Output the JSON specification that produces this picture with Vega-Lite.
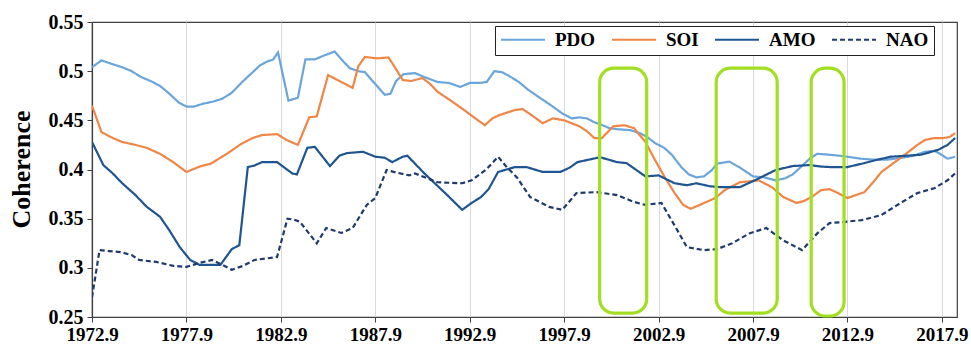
{
  "$schema": "https://vega.github.io/schema/vega-lite/v6.json",
  "width": 865,
  "height": 295,
  "autosize": {"type": "none"},
  "padding": {"left": 92, "top": 22, "right": 14, "bottom": 31},
  "background": "white",
  "config": {"view": {"stroke": "#404040", "strokeWidth": 1.2}, "font": "Liberation Serif"},
  "datasets": {
    "series": [
      {"series":"PDO","year":1972.9,"value":0.504},{"series":"PDO","year":1973.4,"value":0.511},{"series":"PDO","year":1974.0,"value":0.507},{"series":"PDO","year":1974.5,"value":0.504},{"series":"PDO","year":1975.0,"value":0.500},{"series":"PDO","year":1975.5,"value":0.494},{"series":"PDO","year":1976.0,"value":0.490},{"series":"PDO","year":1976.5,"value":0.485},{"series":"PDO","year":1977.0,"value":0.477},{"series":"PDO","year":1977.5,"value":0.468},{"series":"PDO","year":1977.9,"value":0.464},{"series":"PDO","year":1978.3,"value":0.464},{"series":"PDO","year":1978.8,"value":0.467},{"series":"PDO","year":1979.3,"value":0.469},{"series":"PDO","year":1979.8,"value":0.472},{"series":"PDO","year":1980.3,"value":0.478},{"series":"PDO","year":1980.8,"value":0.488},{"series":"PDO","year":1981.3,"value":0.497},{"series":"PDO","year":1981.8,"value":0.506},{"series":"PDO","year":1982.2,"value":0.510},{"series":"PDO","year":1982.5,"value":0.512},{"series":"PDO","year":1982.75,"value":0.519},{"series":"PDO","year":1983.3,"value":0.470},{"series":"PDO","year":1983.8,"value":0.473},{"series":"PDO","year":1984.2,"value":0.512},{"series":"PDO","year":1984.7,"value":0.512},{"series":"PDO","year":1985.2,"value":0.516},{"series":"PDO","year":1985.75,"value":0.520},{"series":"PDO","year":1986.2,"value":0.510},{"series":"PDO","year":1986.55,"value":0.503},{"series":"PDO","year":1987.0,"value":0.500},{"series":"PDO","year":1987.35,"value":0.499},{"series":"PDO","year":1987.9,"value":0.487},{"series":"PDO","year":1988.4,"value":0.476},{"series":"PDO","year":1988.7,"value":0.477},{"series":"PDO","year":1989.0,"value":0.490},{"series":"PDO","year":1989.4,"value":0.497},{"series":"PDO","year":1990.0,"value":0.498},{"series":"PDO","year":1990.5,"value":0.494},{"series":"PDO","year":1991.2,"value":0.489},{"series":"PDO","year":1991.8,"value":0.488},{"series":"PDO","year":1992.4,"value":0.484},{"series":"PDO","year":1992.9,"value":0.488},{"series":"PDO","year":1993.4,"value":0.488},{"series":"PDO","year":1993.8,"value":0.489},{"series":"PDO","year":1994.2,"value":0.500},{"series":"PDO","year":1994.6,"value":0.499},{"series":"PDO","year":1995.0,"value":0.495},{"series":"PDO","year":1995.5,"value":0.489},{"series":"PDO","year":1996.0,"value":0.481},{"series":"PDO","year":1996.76,"value":0.471},{"series":"PDO","year":1997.3,"value":0.464},{"series":"PDO","year":1997.8,"value":0.457},{"series":"PDO","year":1998.3,"value":0.452},{"series":"PDO","year":1998.7,"value":0.453},{"series":"PDO","year":1999.1,"value":0.452},{"series":"PDO","year":1999.5,"value":0.448},{"series":"PDO","year":1999.8,"value":0.446},{"series":"PDO","year":2000.3,"value":0.442},{"series":"PDO","year":2000.7,"value":0.441},{"series":"PDO","year":2001.4,"value":0.440},{"series":"PDO","year":2001.9,"value":0.437},{"series":"PDO","year":2002.3,"value":0.433},{"series":"PDO","year":2002.7,"value":0.427},{"series":"PDO","year":2003.2,"value":0.422},{"series":"PDO","year":2003.6,"value":0.415},{"series":"PDO","year":2004.1,"value":0.4025},{"series":"PDO","year":2004.5,"value":0.395},{"series":"PDO","year":2004.9,"value":0.392},{"series":"PDO","year":2005.3,"value":0.393},{"series":"PDO","year":2005.7,"value":0.399},{"series":"PDO","year":2006.0,"value":0.406},{"series":"PDO","year":2006.65,"value":0.408},{"series":"PDO","year":2007.2,"value":0.402},{"series":"PDO","year":2007.9,"value":0.393},{"series":"PDO","year":2008.5,"value":0.392},{"series":"PDO","year":2009.1,"value":0.389},{"series":"PDO","year":2009.6,"value":0.391},{"series":"PDO","year":2010.0,"value":0.395},{"series":"PDO","year":2010.4,"value":0.402},{"series":"PDO","year":2010.9,"value":0.411},{"series":"PDO","year":2011.3,"value":0.416},{"series":"PDO","year":2011.95,"value":0.415},{"series":"PDO","year":2012.5,"value":0.414},{"series":"PDO","year":2012.9,"value":0.413},{"series":"PDO","year":2013.6,"value":0.411},{"series":"PDO","year":2014.3,"value":0.410},{"series":"PDO","year":2015.0,"value":0.410},{"series":"PDO","year":2015.8,"value":0.412},{"series":"PDO","year":2016.4,"value":0.414},{"series":"PDO","year":2017.0,"value":0.418},{"series":"PDO","year":2017.5,"value":0.419},{"series":"PDO","year":2017.8,"value":0.416},{"series":"PDO","year":2018.2,"value":0.411},{"series":"PDO","year":2018.6,"value":0.413},
      {"series":"SOI","year":1972.9,"value":0.465},{"series":"SOI","year":1973.4,"value":0.438},{"series":"SOI","year":1974.0,"value":0.432},{"series":"SOI","year":1974.5,"value":0.428},{"series":"SOI","year":1975.2,"value":0.425},{"series":"SOI","year":1975.8,"value":0.422},{"series":"SOI","year":1976.5,"value":0.416},{"series":"SOI","year":1977.2,"value":0.4075},{"series":"SOI","year":1977.9,"value":0.3975},{"series":"SOI","year":1978.6,"value":0.403},{"series":"SOI","year":1979.2,"value":0.406},{"series":"SOI","year":1980.1,"value":0.4167},{"series":"SOI","year":1980.8,"value":0.426},{"series":"SOI","year":1981.4,"value":0.432},{"series":"SOI","year":1981.9,"value":0.435},{"series":"SOI","year":1982.7,"value":0.436},{"series":"SOI","year":1983.2,"value":0.430},{"series":"SOI","year":1983.8,"value":0.425},{"series":"SOI","year":1984.4,"value":0.453},{"series":"SOI","year":1984.8,"value":0.454},{"series":"SOI","year":1985.4,"value":0.496},{"series":"SOI","year":1986.0,"value":0.490},{"series":"SOI","year":1986.7,"value":0.483},{"series":"SOI","year":1987.0,"value":0.505},{"series":"SOI","year":1987.35,"value":0.5145},{"series":"SOI","year":1988.0,"value":0.513},{"series":"SOI","year":1988.6,"value":0.514},{"series":"SOI","year":1989.0,"value":0.502},{"series":"SOI","year":1989.35,"value":0.491},{"series":"SOI","year":1989.8,"value":0.490},{"series":"SOI","year":1990.4,"value":0.493},{"series":"SOI","year":1990.8,"value":0.487},{"series":"SOI","year":1991.2,"value":0.479},{"series":"SOI","year":1991.9,"value":0.470},{"series":"SOI","year":1992.6,"value":0.4605},{"series":"SOI","year":1993.2,"value":0.452},{"series":"SOI","year":1993.7,"value":0.445},{"series":"SOI","year":1994.1,"value":0.452},{"series":"SOI","year":1994.5,"value":0.4555},{"series":"SOI","year":1995.3,"value":0.4605},{"series":"SOI","year":1995.7,"value":0.4615},{"series":"SOI","year":1996.2,"value":0.455},{"series":"SOI","year":1996.76,"value":0.447},{"series":"SOI","year":1997.3,"value":0.452},{"series":"SOI","year":1997.9,"value":0.450},{"series":"SOI","year":1998.7,"value":0.444},{"series":"SOI","year":1999.1,"value":0.439},{"series":"SOI","year":1999.5,"value":0.432},{"series":"SOI","year":1999.9,"value":0.432},{"series":"SOI","year":2000.5,"value":0.444},{"series":"SOI","year":2001.1,"value":0.445},{"series":"SOI","year":2001.6,"value":0.442},{"series":"SOI","year":2002.2,"value":0.428},{"series":"SOI","year":2002.7,"value":0.410},{"series":"SOI","year":2003.2,"value":0.393},{"series":"SOI","year":2003.75,"value":0.376},{"series":"SOI","year":2004.2,"value":0.364},{"series":"SOI","year":2004.6,"value":0.360},{"series":"SOI","year":2005.2,"value":0.365},{"series":"SOI","year":2005.9,"value":0.371},{"series":"SOI","year":2006.4,"value":0.379},{"series":"SOI","year":2007.2,"value":0.387},{"series":"SOI","year":2008.2,"value":0.389},{"series":"SOI","year":2008.9,"value":0.382},{"series":"SOI","year":2009.5,"value":0.372},{"series":"SOI","year":2010.2,"value":0.366},{"series":"SOI","year":2010.6,"value":0.368},{"series":"SOI","year":2011.0,"value":0.372},{"series":"SOI","year":2011.5,"value":0.379},{"series":"SOI","year":2011.95,"value":0.380},{"series":"SOI","year":2012.3,"value":0.377},{"series":"SOI","year":2012.9,"value":0.371},{"series":"SOI","year":2013.8,"value":0.377},{"series":"SOI","year":2014.3,"value":0.388},{"series":"SOI","year":2014.7,"value":0.3975},{"series":"SOI","year":2015.3,"value":0.406},{"series":"SOI","year":2015.8,"value":0.413},{"series":"SOI","year":2016.2,"value":0.419},{"series":"SOI","year":2016.6,"value":0.425},{"series":"SOI","year":2017.0,"value":0.430},{"series":"SOI","year":2017.5,"value":0.432},{"series":"SOI","year":2018.0,"value":0.432},{"series":"SOI","year":2018.3,"value":0.433},{"series":"SOI","year":2018.6,"value":0.437},
      {"series":"AMO","year":1972.9,"value":0.428},{"series":"AMO","year":1973.5,"value":0.4045},{"series":"AMO","year":1974.0,"value":0.396},{"series":"AMO","year":1974.5,"value":0.386},{"series":"AMO","year":1975.2,"value":0.374},{"series":"AMO","year":1975.8,"value":0.362},{"series":"AMO","year":1976.5,"value":0.352},{"series":"AMO","year":1977.0,"value":0.338},{"series":"AMO","year":1977.55,"value":0.321},{"series":"AMO","year":1978.1,"value":0.308},{"series":"AMO","year":1978.6,"value":0.303},{"series":"AMO","year":1979.2,"value":0.303},{"series":"AMO","year":1979.7,"value":0.303},{"series":"AMO","year":1980.3,"value":0.319},{"series":"AMO","year":1980.7,"value":0.323},{"series":"AMO","year":1981.15,"value":0.4025},{"series":"AMO","year":1981.5,"value":0.404},{"series":"AMO","year":1981.9,"value":0.4075},{"series":"AMO","year":1982.7,"value":0.4075},{"series":"AMO","year":1983.5,"value":0.396},{"series":"AMO","year":1983.75,"value":0.395},{"series":"AMO","year":1984.3,"value":0.422},{"series":"AMO","year":1984.7,"value":0.423},{"series":"AMO","year":1985.5,"value":0.4035},{"series":"AMO","year":1986.0,"value":0.414},{"series":"AMO","year":1986.4,"value":0.4167},{"series":"AMO","year":1987.25,"value":0.418},{"series":"AMO","year":1987.9,"value":0.413},{"series":"AMO","year":1988.4,"value":0.412},{"series":"AMO","year":1988.8,"value":0.4075},{"series":"AMO","year":1989.35,"value":0.413},{"series":"AMO","year":1989.6,"value":0.414},{"series":"AMO","year":1990.5,"value":0.396},{"series":"AMO","year":1991.6,"value":0.376},{"series":"AMO","year":1992.5,"value":0.359},{"series":"AMO","year":1993.0,"value":0.366},{"series":"AMO","year":1993.5,"value":0.372},{"series":"AMO","year":1993.9,"value":0.380},{"series":"AMO","year":1994.4,"value":0.3975},{"series":"AMO","year":1995.3,"value":0.4025},{"series":"AMO","year":1995.9,"value":0.4025},{"series":"AMO","year":1996.76,"value":0.3975},{"series":"AMO","year":1997.7,"value":0.3975},{"series":"AMO","year":1998.2,"value":0.402},{"series":"AMO","year":1998.6,"value":0.4075},{"series":"AMO","year":1999.8,"value":0.4125},{"series":"AMO","year":2000.7,"value":0.4075},{"series":"AMO","year":2001.2,"value":0.4065},{"series":"AMO","year":2002.2,"value":0.393},{"series":"AMO","year":2002.9,"value":0.394},{"series":"AMO","year":2003.75,"value":0.386},{"series":"AMO","year":2004.4,"value":0.384},{"series":"AMO","year":2004.9,"value":0.386},{"series":"AMO","year":2005.6,"value":0.383},{"series":"AMO","year":2006.2,"value":0.382},{"series":"AMO","year":2007.2,"value":0.382},{"series":"AMO","year":2008.1,"value":0.390},{"series":"AMO","year":2009.1,"value":0.3995},{"series":"AMO","year":2010.0,"value":0.4035},{"series":"AMO","year":2010.9,"value":0.4045},{"series":"AMO","year":2011.5,"value":0.403},{"series":"AMO","year":2011.95,"value":0.4025},{"series":"AMO","year":2012.9,"value":0.4025},{"series":"AMO","year":2013.8,"value":0.4065},{"series":"AMO","year":2014.5,"value":0.410},{"series":"AMO","year":2015.2,"value":0.413},{"series":"AMO","year":2016.0,"value":0.414},{"series":"AMO","year":2016.8,"value":0.415},{"series":"AMO","year":2017.7,"value":0.420},{"series":"AMO","year":2018.2,"value":0.425},{"series":"AMO","year":2018.6,"value":0.432},
      {"series":"NAO","year":1972.9,"value":0.270},{"series":"NAO","year":1973.3,"value":0.318},{"series":"NAO","year":1973.8,"value":0.317},{"series":"NAO","year":1974.4,"value":0.316},{"series":"NAO","year":1975.0,"value":0.313},{"series":"NAO","year":1975.4,"value":0.308},{"series":"NAO","year":1976.3,"value":0.306},{"series":"NAO","year":1977.2,"value":0.302},{"series":"NAO","year":1977.9,"value":0.301},{"series":"NAO","year":1978.6,"value":0.305},{"series":"NAO","year":1979.25,"value":0.308},{"series":"NAO","year":1979.8,"value":0.303},{"series":"NAO","year":1980.3,"value":0.298},{"series":"NAO","year":1980.9,"value":0.302},{"series":"NAO","year":1981.5,"value":0.308},{"series":"NAO","year":1982.7,"value":0.311},{"series":"NAO","year":1983.25,"value":0.350},{"series":"NAO","year":1983.6,"value":0.349},{"series":"NAO","year":1983.9,"value":0.347},{"series":"NAO","year":1984.8,"value":0.325},{"series":"NAO","year":1985.3,"value":0.3405},{"series":"NAO","year":1986.1,"value":0.3355},{"series":"NAO","year":1986.7,"value":0.3405},{"series":"NAO","year":1987.45,"value":0.364},{"series":"NAO","year":1987.9,"value":0.371},{"series":"NAO","year":1988.5,"value":0.3995},{"series":"NAO","year":1989.0,"value":0.397},{"series":"NAO","year":1989.7,"value":0.394},{"series":"NAO","year":1990.0,"value":0.396},{"series":"NAO","year":1991.2,"value":0.387},{"series":"NAO","year":1992.5,"value":0.386},{"series":"NAO","year":1993.0,"value":0.389},{"series":"NAO","year":1993.8,"value":0.4005},{"series":"NAO","year":1994.4,"value":0.413},{"series":"NAO","year":1994.9,"value":0.4015},{"series":"NAO","year":1995.4,"value":0.392},{"series":"NAO","year":1996.1,"value":0.372},{"series":"NAO","year":1997.1,"value":0.362},{"series":"NAO","year":1997.8,"value":0.359},{"series":"NAO","year":1998.55,"value":0.376},{"series":"NAO","year":1999.6,"value":0.377},{"series":"NAO","year":2000.7,"value":0.374},{"series":"NAO","year":2001.6,"value":0.367},{"series":"NAO","year":2002.2,"value":0.364},{"series":"NAO","year":2003.05,"value":0.366},{"series":"NAO","year":2003.75,"value":0.343},{"series":"NAO","year":2004.4,"value":0.321},{"series":"NAO","year":2005.3,"value":0.318},{"series":"NAO","year":2006.0,"value":0.319},{"series":"NAO","year":2006.8,"value":0.325},{"series":"NAO","year":2007.7,"value":0.335},{"series":"NAO","year":2008.6,"value":0.3405},{"series":"NAO","year":2009.5,"value":0.328},{"series":"NAO","year":2010.5,"value":0.318},{"series":"NAO","year":2011.3,"value":0.335},{"series":"NAO","year":2011.95,"value":0.3455},{"series":"NAO","year":2012.6,"value":0.3465},{"series":"NAO","year":2013.65,"value":0.3485},{"series":"NAO","year":2014.7,"value":0.3537},{"series":"NAO","year":2015.8,"value":0.367},{"series":"NAO","year":2016.6,"value":0.376},{"series":"NAO","year":2017.5,"value":0.381},{"series":"NAO","year":2018.2,"value":0.389},{"series":"NAO","year":2018.6,"value":0.396}
    ],
    "boxes": [
      {"x0": 1999.78, "x1": 2002.27, "y0": 0.503, "y1": 0.254},
      {"x0": 2005.95, "x1": 2009.18, "y0": 0.503, "y1": 0.254},
      {"x0": 2010.98, "x1": 2012.72, "y0": 0.503, "y1": 0.251}
    ]
  },
  "layer": [
    {
      "data": {"name": "series"},
      "mark": {"type": "line", "strokeWidth": 2.2, "clip": true},
      "encoding": {
        "x": {
          "field": "year", "type": "quantitative",
          "scale": {"domain": [1972.9, 2018.7], "nice": false, "zero": false},
          "axis": {
            "values": [1972.9, 1977.9, 1982.9, 1987.9, 1992.9, 1997.9, 2002.9, 2007.9, 2012.9, 2017.9],
            "format": ".1f", "title": null, "grid": true, "gridColor": "#d9d9d9", "gridWidth": 1,
            "tickSize": 5, "tickColor": "#404040", "domainColor": "#404040", "domainWidth": 1.2,
            "labelFont": "Liberation Serif", "labelFontWeight": "bold", "labelFontSize": 19, "labelColor": "black",
            "labelPadding": 3, "labelOverlap": false, "labelBound": false, "labelFlush": false
          }
        },
        "y": {
          "field": "value", "type": "quantitative",
          "scale": {"domain": [0.25, 0.55], "nice": false, "zero": false},
          "axis": {
            "values": [0.25, 0.3, 0.35, 0.4, 0.45, 0.5, 0.55], "format": "~g",
            "title": "Coherence", "titleFont": "Liberation Serif", "titleFontWeight": "bold", "titleFontSize": 26,
            "titleColor": "black", "titleX": -63, "titleY": 147, "titleBaseline": "alphabetic", "titleAngle": -90, "titleAlign": "center",
            "grid": false, "tickSize": 5, "tickColor": "#404040", "domainColor": "#404040", "domainWidth": 1.2,
            "labelFont": "Liberation Serif", "labelFontWeight": "bold", "labelFontSize": 20, "labelColor": "black",
            "labelPadding": 4, "labelOverlap": false, "labelBound": false, "labelFlush": false
          }
        },
        "color": {
          "field": "series", "type": "nominal",
          "scale": {"domain": ["PDO", "SOI", "AMO", "NAO"], "range": ["#6aa5dc", "#ef8646", "#1f5591", "#1f3a6e"]},
          "legend": {
            "title": null, "orient": "none", "legendX": 403, "legendY": 4, "direction": "horizontal",
            "strokeColor": "#222222", "fillColor": "white", "padding": 5, "clipHeight": 17,
            "symbolType": "stroke", "symbolSize": 1936, "symbolStrokeWidth": 2,
            "labelFont": "Liberation Serif", "labelFontWeight": "bold", "labelFontSize": 19, "labelColor": "black",
            "labelOffset": 9, "columnPadding": 15
          }
        },
        "strokeDash": {
          "field": "series", "type": "nominal",
          "scale": {"domain": ["PDO", "SOI", "AMO", "NAO"], "range": [[1, 0], [1, 0], [1, 0], [5, 3]]},
          "legend": {
            "title": null, "orient": "none", "legendX": 403, "legendY": 4, "direction": "horizontal",
            "strokeColor": "#222222", "fillColor": "white", "padding": 5, "clipHeight": 17,
            "symbolType": "stroke", "symbolSize": 1936, "symbolStrokeWidth": 2,
            "labelFont": "Liberation Serif", "labelFontWeight": "bold", "labelFontSize": 19, "labelColor": "black",
            "labelOffset": 9, "columnPadding": 15
          }
        }
      }
    },
    {
      "data": {"name": "boxes"},
      "mark": {"type": "rect", "fill": "transparent", "stroke": "#a2de22", "strokeWidth": 3.2, "cornerRadius": 14},
      "encoding": {
        "x": {"field": "x0", "type": "quantitative"},
        "x2": {"field": "x1"},
        "y": {"field": "y0", "type": "quantitative"},
        "y2": {"field": "y1"}
      }
    }
  ]
}
